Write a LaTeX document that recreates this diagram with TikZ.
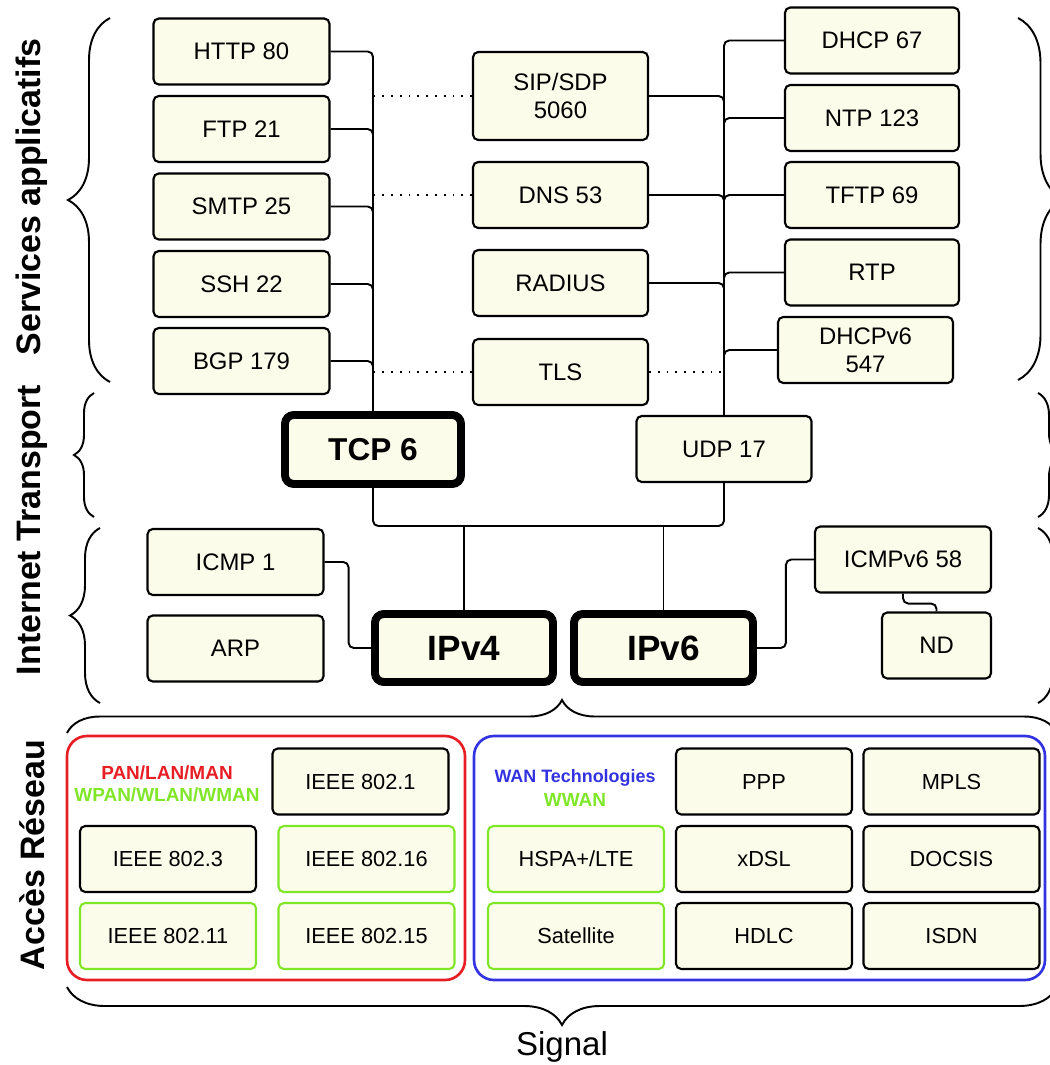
\documentclass[tikz,border=0pt]{standalone}
\usepackage{fontspec}
\setmainfont{Liberation Sans}
\usetikzlibrary{decorations.pathreplacing}

\definecolor{boxfill}{RGB}{252,252,234}
\definecolor{lanred}{RGB}{232,30,37}
\definecolor{wangreen}{RGB}{128,230,40}
\definecolor{wanblue}{RGB}{50,50,225}

\begin{document}
\begin{tikzpicture}
	[
		x=0.02cm, y=-0.02cm,
		proto/.style={draw, line width=1.2pt, rounded corners=3pt, fill=boxfill, align=center, inner sep=0pt, minimum width=176*\px, minimum height=66*\px, font=\fontsize{13.6}{16}\selectfont},
		core/.style={proto, line width=4.5pt, rounded corners=5pt},
		link/.style={proto, font=\fontsize{12.4}{15}\selectfont},
		wlink/.style={link, draw=wangreen},
		conn/.style={line width=1.1pt, rounded corners=3pt},
		hint/.style={line width=1pt, dash pattern=on 1pt off 4pt},
		bracket/.style={line width=1.1pt, decorate, decoration={brace, amplitude=#1}},
		layer/.style={rotate=90, font=\bfseries\fontsize{19.3}{22}\selectfont},
		tag/.style={font=\bfseries\fontsize{10.8}{13}\selectfont}
	]

	\def\px{0.02cm}

	\useasboundingbox (0,0) rectangle (1049,1065);

		\path (241.5,51.5) node [proto] (http) {HTTP 80};
		\path (241.5,129) node [proto] (ftp) {FTP 21};
		\path (241.5,206.5) node [proto] (smtp) {SMTP 25};
		\path (241.5,284) node [proto] (ssh) {SSH 22};
		\path (241.5,361) node [proto] (bgp) {BGP 179};

		\path (560.5,96) node [proto, minimum width=175*\px, minimum height=88*\px] (sip) {SIP/SDP\\5060};
		\path (560.5,195) node [proto, minimum width=175*\px] (dns) {DNS 53};
		\path (560.5,283) node [proto, minimum width=175*\px] (radius) {RADIUS};
		\path (560.5,372) node [proto, minimum width=175*\px] (tls) {TLS};

		\path (872,40.5) node [proto, minimum width=174*\px] (dhcp) {DHCP 67};
		\path (872,118) node [proto, minimum width=174*\px] (ntp) {NTP 123};
		\path (872,195) node [proto, minimum width=174*\px] (tftp) {TFTP 69};
		\path (872,272.5) node [proto, minimum width=174*\px] (rtp) {RTP};
		\path (865.5,350) node [proto, minimum width=175*\px] (dhcpsix) {DHCPv6\\547};

		\path (373,449.5) node [core, minimum width=176*\px, minimum height=69*\px, font=\bfseries\fontsize{18}{20}\selectfont] (tcp) {TCP 6};
		\path (724,449) node [proto, minimum width=175*\px] (udp) {UDP 17};

		\path (235.5,562) node [proto] (icmp) {ICMP 1};
		\path (235.5,648.5) node [proto] (arp) {ARP};
		\path (464,648) node [core, minimum width=178*\px, minimum height=68*\px, font=\bfseries\fontsize{20}{22}\selectfont] (ipfour) {IPv4};
		\path (663.5,648) node [core, minimum width=179*\px, minimum height=68*\px, font=\bfseries\fontsize{20}{22}\selectfont] (ipsix) {IPv6};
		\path (903,559.5) node [proto] (icmpsix) {ICMPv6 58};
		\path (936.5,645.5) node [proto, minimum width=109*\px] (nd) {ND};

		\draw [line width=1.5pt, lanred, rounded corners=20*\px] (67,736) rectangle (465,980);
		\draw [line width=1.5pt, wanblue, rounded corners=20*\px] (474,736) rectangle (1045,980);

		\path (167,773) node [tag, text=lanred] (lan) {PAN/LAN/MAN};
		\path (167,795) node [tag, text=wangreen] (wlan) {WPAN/WLAN/WMAN};
		\path (575,778) node [tag, text=wanblue, font=\bfseries\fontsize{10.2}{12}\selectfont] (wan) {WAN Technologies};
		\path (575,800) node [tag, text=wangreen] (wwan) {WWAN};

		\path (360.5,781.5) node [link] (ieeeone) {IEEE 802.1};
		\path (168,859) node [link] (ieeethree) {IEEE 802.3};
		\path (366.5,859) node [wlink] (ieeesixteen) {IEEE 802.16};
		\path (168,936) node [wlink] (ieeeeleven) {IEEE 802.11};
		\path (366.5,936) node [wlink] (ieeefifteen) {IEEE 802.15};

		\path (764,781.5) node [link] (ppp) {PPP};
		\path (951.5,781.5) node [link] (mpls) {MPLS};
		\path (576,859) node [wlink] (hspa) {HSPA+/LTE};
		\path (764,859) node [link] (xdsl) {xDSL};
		\path (951.5,859) node [link] (docsis) {DOCSIS};
		\path (576,936) node [wlink] (satellite) {Satellite};
		\path (764,936) node [link] (hdlc) {HDLC};
		\path (951.5,936) node [link] (isdn) {ISDN};

		\path (32,197) node [layer] (services) {Services applicatifs};
		\path (32,530) node [layer] (internet) {Internet Transport};
		\path (32,855) node [layer] (acces) {Accès Réseau};
		\path (562,1047) node [font=\fontsize{18.8}{22}\selectfont] (signal) {Signal};

		\foreach \app in {http, ftp, smtp, ssh, bgp}
			\draw [conn] (\app.east) -| (tcp.north);
		\foreach \app in {sip, dns, radius}
			\draw [conn] (\app.east) -| (udp.north);
		\foreach \app in {dhcp, ntp, tftp, rtp, dhcpsix}
			\draw [conn] (\app.west) -| (udp.north);

		\draw [hint] (sip.west) -- (sip.west -| tcp.north);
		\draw [hint] (dns.west) -- (dns.west -| tcp.north);
		\draw [hint] (tls.west) -- (tls.west -| tcp.north);
		\draw [hint] (tls.east) -- (tls.east -| udp.north);

		\coordinate (bus) at (373,526);
		\draw [conn] (tcp.south) -- (bus) -- (bus -| udp.south) -- (udp.south);
		\draw [conn] (ipfour.north) -- (ipfour.north |- bus);
		\draw [conn] (ipsix.north) -- (ipsix.north |- bus);
		\draw [conn] (icmp.east) -- ++(24,0) |- (ipfour.west);
		\draw [conn] (ipsix.east) -- ++(29,0) |- (icmpsix.west);
		\draw [conn] (icmpsix.south) -- ++(0,10) -| (nd.north);

		\draw [bracket=42*\px] (110,382) -- (110,18);
		\draw [bracket=45*\px] (1018,18) -- (1018,380);
		\draw [bracket=20*\px] (94,517) -- (94,393);
		\draw [bracket=22*\px] (1038,393) -- (1038,517);
		\draw [bracket=30*\px] (100,703) -- (100,528);
		\draw [bracket=30*\px] (1038,528) -- (1038,703);
		\draw [bracket=33*\px] (67,733) -- (1057,733);
		\draw [bracket=38*\px] (1057,987) -- (67,987);

\end{tikzpicture}
\end{document}
